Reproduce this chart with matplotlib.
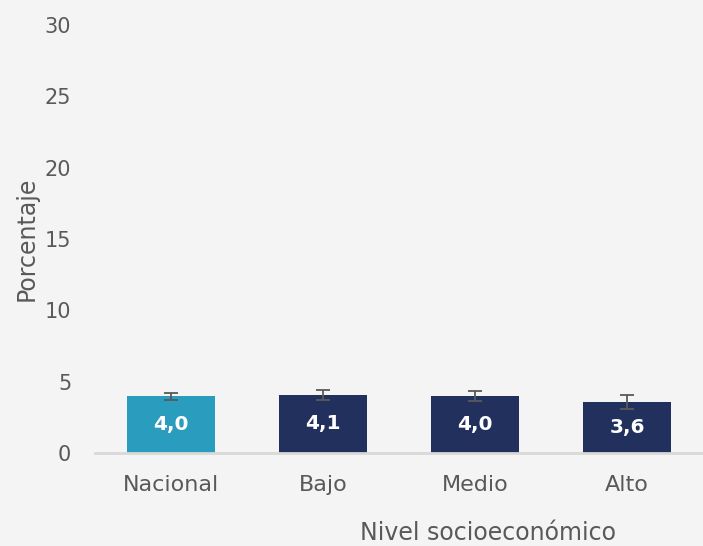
import matplotlib.pyplot as plt
import numpy as np

categorias = ['Nacional', 'Bajo', 'Medio', 'Alto']
porcentaje = np.array([4.0, 4.1, 4.0, 3.6])
error = np.array([0.25, 0.36, 0.37, 0.5])
etiquetas = ['4,0', '4,1', '4,0', '3,6']
colores = ['#2a9dbf', '#22305e', '#22305e', '#22305e']

plt.rcParams['font.family'] = ['DejaVu Sans']

fig = plt.figure(figsize=(7.03, 5.46), dpi=100, facecolor='#f4f4f4')
ax = fig.add_axes([0.135, 0.170, 0.865, 0.784], facecolor='#f4f4f4')

x = np.arange(len(categorias))
ax.bar(x, porcentaje, width=0.575, color=colores, zorder=2)
ax.errorbar(x, porcentaje, yerr=error, fmt='none', ecolor='#595959',
            elinewidth=1.3, capsize=5, capthick=1.3, zorder=3)

for xi, v, t in zip(x, porcentaje, etiquetas):
    ax.text(xi, v / 2, t, ha='center', va='center', color='white',
            fontsize=14.5, fontweight='bold', zorder=4)

ax.set_xlim(-0.5, 3.5)
ax.set_ylim(0, 30)
ax.set_yticks(np.arange(0, 31, 5))
ax.set_xticks(x)
ax.set_xticklabels(categorias)
ax.tick_params(axis='both', length=0, labelsize=15, labelcolor='#595959')
ax.tick_params(axis='x', pad=16, labelsize=16)
ax.tick_params(axis='y', pad=17)

for s in ['top', 'right', 'left']:
    ax.spines[s].set_visible(False)
ax.spines['bottom'].set_color('#d9d9d9')
ax.spines['bottom'].set_linewidth(2)

fig.text(0.038, 0.562, 'Porcentaje', rotation=90, ha='center', va='center',
         fontsize=17, color='#595959')
fig.text(0.694, 0.024, 'Nivel socioeconómico', ha='center', va='center',
         fontsize=17, color='#595959')

fig.savefig('out.png', dpi=100, facecolor=fig.get_facecolor())
